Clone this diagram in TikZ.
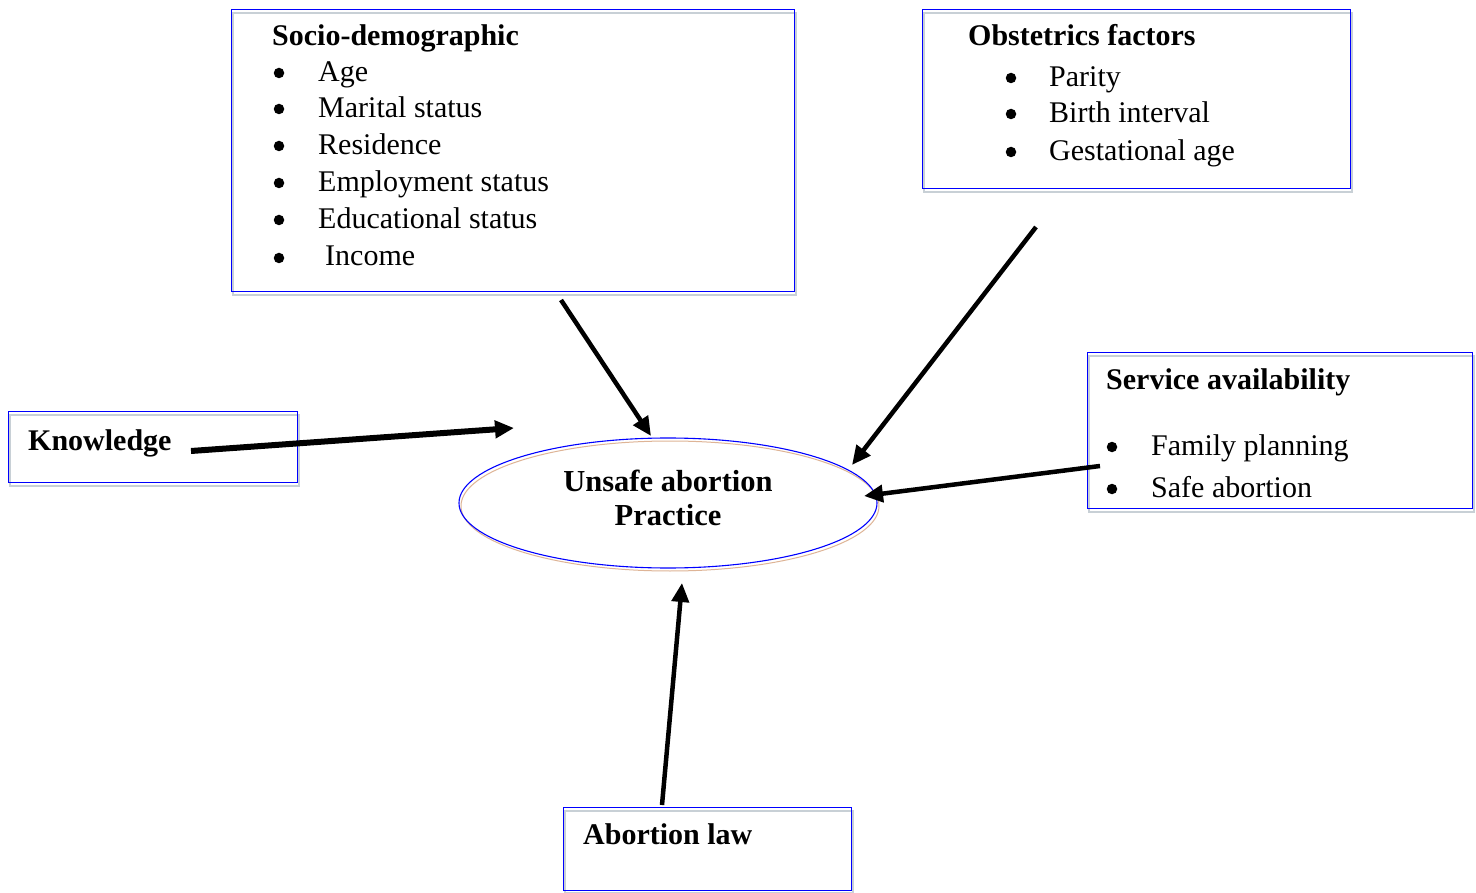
\documentclass[tikz,border=0pt]{standalone}
\usepackage{fontspec}
\setmainfont{Liberation Serif}
\usetikzlibrary{shapes.geometric,arrows.meta}
\definecolor{boxblue}{RGB}{0,0,255}
\definecolor{shadowgray}{RGB}{200,208,214}
\definecolor{tan}{RGB}{222,180,150}
\tikzset{
  boxnode/.style={draw=boxblue, line width=1.2pt, anchor=north west, inner sep=0pt, fill=none},
  shadowline/.style={draw=shadowgray, line width=1.2pt},
  txt/.style={anchor=base west, inner sep=0pt, font=\fontsize{30}{36}\selectfont},
  ttl/.style={txt, font=\fontsize{30}{36}\selectfont\bfseries},
  bul/.style={circle, fill=black, inner sep=0pt, minimum size=10.5pt},
  arr/.style={line width=4.5pt, -{Triangle[length=19pt,width=17pt]}},
}
\begin{document}
\begin{tikzpicture}[x=1pt,y=-1pt]
\useasboundingbox[fill=white] (0,0) rectangle (1476,893);

% shadows
\draw[shadowline] (233,13) rectangle (796,295);
\draw[shadowline] (924,13) rectangle (1352,192);
\draw[shadowline] (1089,356) rectangle (1474,512);
\draw[shadowline] (10,415) rectangle (299,486);
\draw[shadowline] (565,811) rectangle (853,893);

% boxes
\node[boxnode, minimum width=563pt, minimum height=282pt] (socio) at (231,9) {};
\node[boxnode, minimum width=428pt, minimum height=179pt] (obst) at (922,9) {};
\node[boxnode, minimum width=385pt, minimum height=156pt] (serv) at (1087,352) {};
\node[boxnode, minimum width=289pt, minimum height=71pt] (know) at (8,411) {};
\node[boxnode, minimum width=288pt, minimum height=83pt] (law) at (563,807) {};

% ellipse
\draw[tan, line width=1pt] (670,506) ellipse [x radius=209, y radius=65];
\node[draw=boxblue, line width=1.1pt, ellipse, minimum width=418pt, minimum height=130pt, inner sep=0pt] (unsafe) at (668,503) {};
\node[anchor=base, inner sep=0pt, font=\fontsize{30.5}{36}\selectfont\bfseries] (u1) at (668,491) {Unsafe abortion};
\node[anchor=base, inner sep=0pt, font=\fontsize{30.5}{36}\selectfont\bfseries] (u2) at (668,525) {Practice};

% socio text
\node[ttl] (st) at (272,46) {Socio-demographic};
\node[bul] (sb1) at (279,73) {};
\node[bul] (sb2) at (279,109) {};
\node[bul] (sb3) at (279,146) {};
\node[bul] (sb4) at (279,183) {};
\node[bul] (sb5) at (279,220) {};
\node[bul] (sb6) at (279,258) {};
\node[txt] (s1) at (318,82) {Age};
\node[txt] (s2) at (318,118) {Marital status};
\node[txt] (s3) at (318,155) {Residence};
\node[txt] (s4) at (318,192) {Employment status};
\node[txt] (s5) at (318,229) {Educational status};
\node[txt] (s6) at (325,266) {Income};

% obstetrics text
\node[ttl] (ot) at (968,46) {Obstetrics factors};
\node[bul] (ob1) at (1011,78) {};
\node[bul] (ob2) at (1011,114) {};
\node[bul] (ob3) at (1011,152) {};
\node[txt] (o1) at (1049,87) {Parity};
\node[txt] (o2) at (1049,123) {Birth interval};
\node[txt] (o3) at (1049,161) {Gestational age};

% service text
\node[ttl] (vt) at (1106,390) {Service availability};
\node[bul] (vb1) at (1112,447) {};
\node[bul] (vb2) at (1112,489) {};
\node[txt] (v1) at (1151,455) {Family planning};
\node[txt] (v2) at (1151,497) {Safe abortion};

% knowledge & law
\node[ttl] (kt) at (28,450) {Knowledge};
\node[ttl] (lt) at (583,844) {Abortion law};

% arrow coordinates
\coordinate (kS) at (191,451); \coordinate (kE) at (514,428);
\coordinate (sS) at (561,300); \coordinate (sE) at (651,436);
\coordinate (oS) at (1036,227); \coordinate (oE) at (852,465);
\coordinate (vS) at (1100,466); \coordinate (vE) at (864,496);
\coordinate (lS) at (662,805); \coordinate (lE) at (682,583);

\draw[arr, line width=6pt] (kS) -- (kE);
\draw[arr] (sS) -- (sE);
\draw[arr] (oS) -- (oE);
\draw[arr] (vS) -- (vE);
\draw[arr] (lS) -- (lE);
\end{tikzpicture}
\end{document}
